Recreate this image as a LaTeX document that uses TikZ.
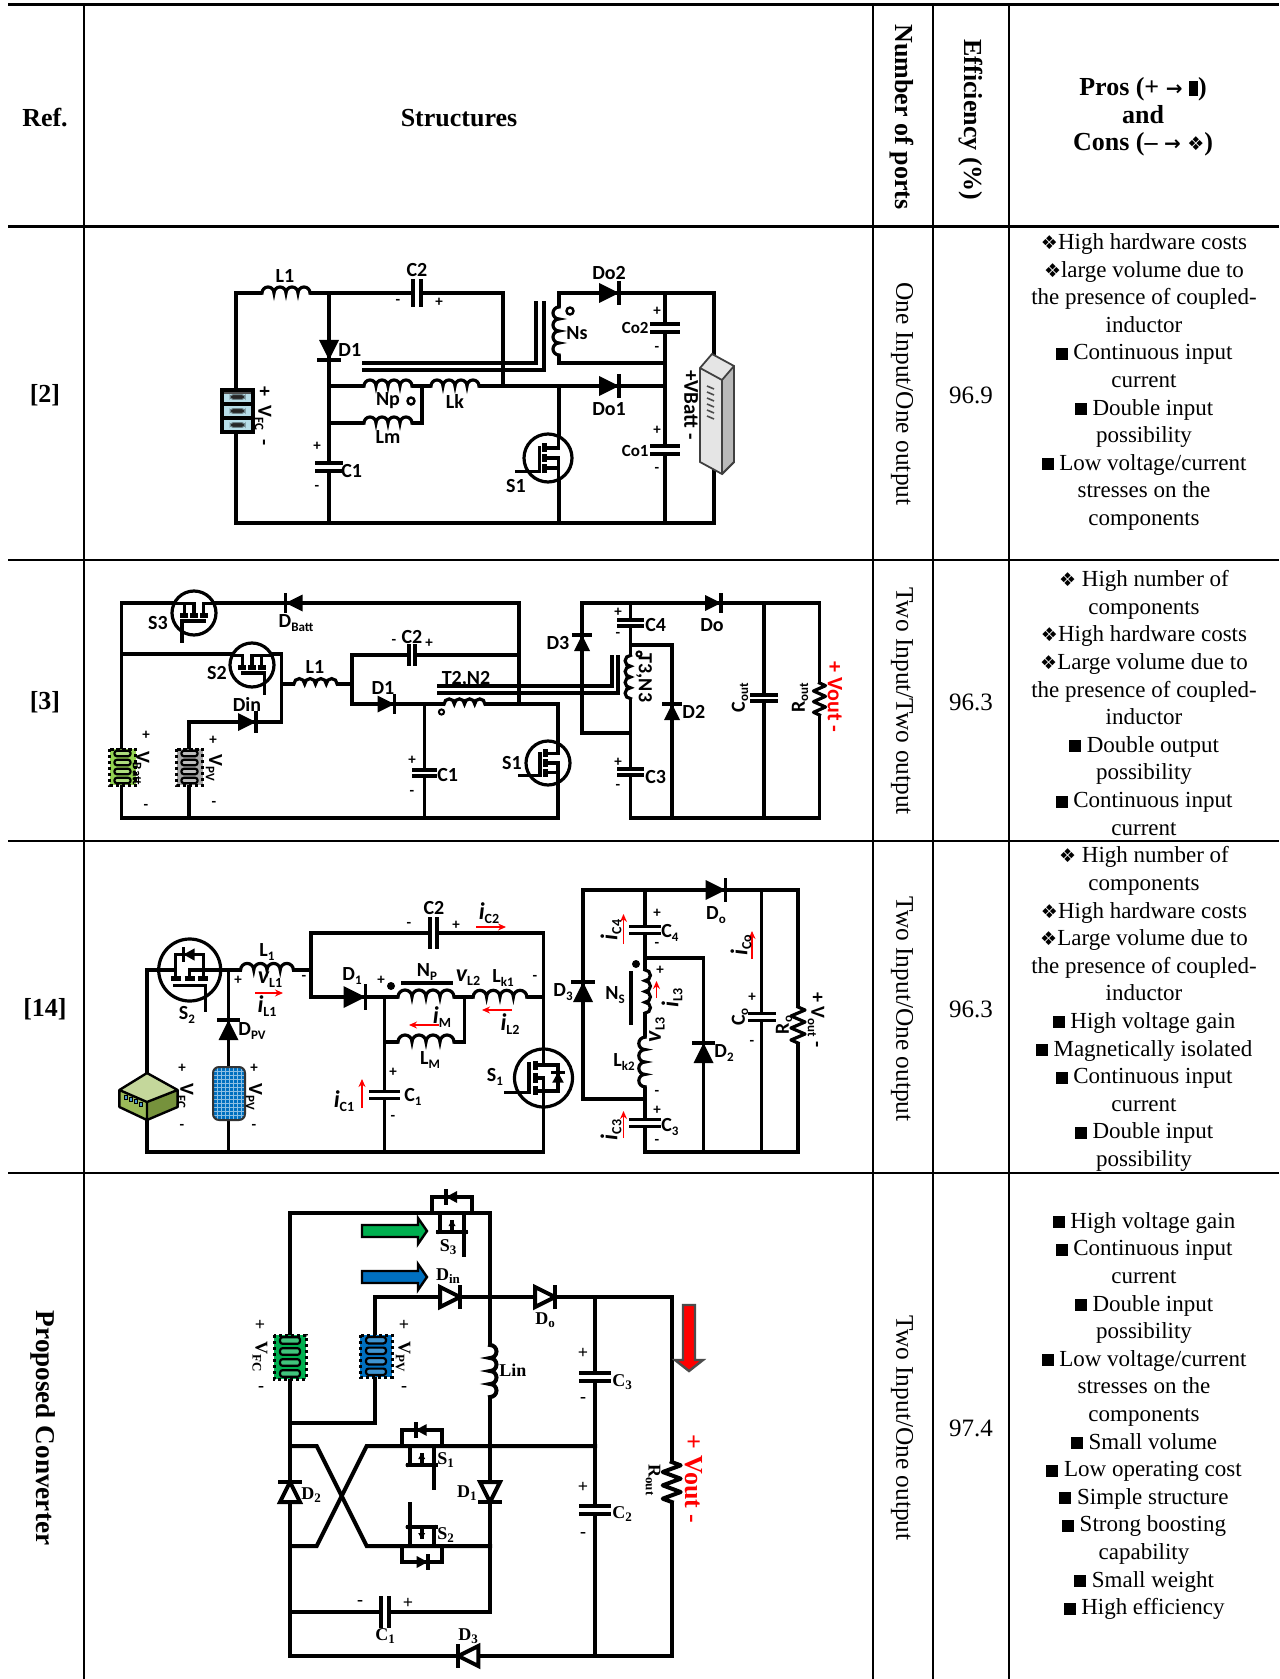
\documentclass[tikz,border=0pt]{standalone}
\usepackage{fontspec}
\setmainfont{Liberation Serif}
\newfontfamily\calfont{Carlito}
\newfontfamily\symfont{DejaVu Sans}
\usetikzlibrary{arrows.meta}
\definecolor{vgreen}{HTML}{92D050}
\definecolor{vgray}{HTML}{A6A6A6}
\definecolor{c1blue}{HTML}{B7DDE8}
\definecolor{pgreen}{HTML}{00B050}
\definecolor{pblue}{HTML}{0070C0}
\definecolor{olvA}{HTML}{C4D79B}
\definecolor{olvB}{HTML}{9BBB59}
\definecolor{olvC}{HTML}{76923C}
\definecolor{vred}{HTML}{FF0000}
\newcounter{nn}
\newcommand\Lb[4][]{\stepcounter{nn}\node[#1] (n\arabic{nn}) at (#2,#3) {#4};}
\newcommand\sbs[1]{\raisebox{-0.35ex}{\fontsize{6.5}{6.5}\selectfont #1}}
\newcommand\dmd{{\symfont\fontsize{9.5}{9.5}\selectfont ❖}}
\newcommand\bsq{\rule{6pt}{6pt}}
\newcommand\arr{{\symfont\fontsize{10}{10}\selectfont →}}
\newcommand\iv[2]{{\itshape\fontsize{12}{12}\selectfont #1}\raisebox{-0.4ex}{\calfont\bfseries\fontsize{7}{7}\selectfont #2}}
% components
\newcommand\Ind[4]{\begin{scope}[shift={(#1,#2)},rotate=#3]
 \fill[white] (-4*#4,-2.6) rectangle (4*#4,2.6);
 \draw[wire] (-4*#4,0) arc(180:360:#4) arc(180:360:#4) arc(180:360:#4) arc(180:360:#4);
\end{scope}}
\newcommand\Cap[5]{\begin{scope}[shift={(#1,#2)},rotate=#3]
 \fill[white] (-#5,-2.6) rectangle (#5,2.6);
 \draw[wire] (-#5,-#4) -- (-#5,#4) (#5,-#4) -- (#5,#4);
\end{scope}}
\newcommand\Dio[4]{\begin{scope}[shift={(#1,#2)},rotate=#3]
 \fill (-#4,-#4) -- (#4,0) -- (-#4,#4) -- cycle;
 \draw[wire] (#4,-#4) -- (#4,#4);
\end{scope}}
\newcommand\DioO[4]{\begin{scope}[shift={(#1,#2)},rotate=#3]
 \filldraw[wire,fill=white] (-#4,-#4) -- (#4,0) -- (-#4,#4) -- cycle;
 \draw[wire] (#4,-#4) -- (#4,#4);
\end{scope}}
\newcommand\Mos[4]{\begin{scope}[shift={(#1,#2)},#3]
 \filldraw[wire,fill=white] (0,0) circle (#4);
 \draw[wire] (0.45*#4,-0.89*#4) -- (0.45*#4,-0.42*#4) -- (-0.1*#4,-0.42*#4)
   (0.45*#4,0.89*#4) -- (0.45*#4,0.42*#4) -- (-0.1*#4,0.42*#4)
   (-0.1*#4,0) -- (0.45*#4,0) -- (0.45*#4,0.42*#4);
 \draw[line width=2.4pt] (-0.13*#4,-0.62*#4) -- (-0.13*#4,-0.26*#4) (-0.13*#4,-0.16*#4) -- (-0.13*#4,0.16*#4) (-0.13*#4,0.26*#4) -- (-0.13*#4,0.62*#4);
 \draw[wire] (-0.36*#4,-0.45*#4) -- (-0.36*#4,0.55*#4) -- (-1.3*#4,0.55*#4);
\end{scope}}
\newcommand\MosD[4]{\begin{scope}[shift={(#1,#2)},#3]
 \filldraw[wire,fill=white] (0,0) circle (#4);
 \draw[wire] (0,-#4) -- (0,-0.45*#4) (-0.22*#4,-0.45*#4) -- (0.5*#4,-0.45*#4) -- (0.5*#4,0.45*#4) -- (-0.22*#4,0.45*#4) (0,0.45*#4) -- (0,#4) (-0.22*#4,0) -- (0,0) -- (0,0.45*#4);
 \fill (0.5*#4,-0.2*#4) -- (0.3*#4,0.16*#4) -- (0.7*#4,0.16*#4) -- cycle;
 \draw[wire] (0.3*#4,-0.2*#4) -- (0.7*#4,-0.2*#4);
 \draw[line width=2.4pt] (-0.28*#4,-0.6*#4) -- (-0.28*#4,-0.28*#4) (-0.28*#4,-0.16*#4) -- (-0.28*#4,0.16*#4) (-0.28*#4,0.28*#4) -- (-0.28*#4,0.6*#4);
 \draw[wire] (-0.5*#4,-0.5*#4) -- (-0.5*#4,0.5*#4) -- (-1.3*#4,0.5*#4);
\end{scope}}
\newcommand\Sw[3]{\begin{scope}[shift={(#1,#2)},#3]
 \draw[wire] (-20,0) -- (-20,-16) -- (20,-16) -- (20,0);
 \fill (5,-22) -- (-6,-16) -- (5,-10) -- cycle;
 \draw[wire] (-6,-22) -- (-6,-10);
 \draw[wire] (-12,0) -- (-12,19) (12,0) -- (12,42) (-14,19) -- (14,19) (0,19) -- (0,9);
 \fill (-3.5,13) -- (0,7) -- (3.5,13) -- cycle;
 \fill (-14,19) circle (2.2) (14,19) circle (2.2);
\end{scope}}
\newcommand\Res[5]{\begin{scope}[shift={(#1,#2)},rotate=#3]
 \fill[white] (-#4,-3) rectangle (#4,3);
 \draw[wire,line join=round] (-#4,0) -- ++({#4/6},-#5) -- ++({#4/3},{2*#5}) -- ++({#4/3},{-2*#5}) -- ++({#4/3},{2*#5}) -- ++({#4/3},{-2*#5}) -- ++({#4/3},{2*#5}) -- ++({#4/6},-#5);
\end{scope}}
\newcommand\Batt[7]{\begin{scope}[shift={(#1,#2)}]
 \fill[#5] (-#3,-#4) rectangle (#3,#4);
 \draw[#7] (-#3,-#4) rectangle (#3,#4);
 \foreach \k in {1,...,#6}{
   \filldraw[line width=1.1pt, rounded corners=1.2pt, fill=#5!75!white]
     ({-0.62*#3},{-#4+(\k-0.8)*2*#4/#6}) rectangle ({0.62*#3},{-#4+(\k-0.2)*2*#4/#6});
 }
\end{scope}}
\begin{document}
\begin{tikzpicture}[x=0.5pt,y=-0.5pt,
  wire/.style={line width=1.6pt, line join=miter, line cap=rect},
  body/.style={font=\fontsize{11.5}{13.8}\selectfont, align=center, inner sep=0pt},
  hdr/.style={font=\bfseries\fontsize{13}{13.8}\selectfont, align=center, inner sep=0pt},
  prt/.style={font=\fontsize{12.7}{14}\selectfont, inner sep=0pt},
  eff/.style={font=\fontsize{12.5}{14}\selectfont, inner sep=0pt},
  lb/.style={font=\calfont\bfseries\fontsize{10}{10}\selectfont, inner sep=0pt},
  lbs/.style={font=\calfont\bfseries\fontsize{7.5}{7.5}\selectfont, inner sep=0pt},
  lbt/.style={font=\bfseries\fontsize{9}{9}\selectfont, inner sep=0pt},
  cur/.style={vred, line width=0.9pt, -{Stealth[length=4pt,width=3.5pt]}},
  dotb/.style={line width=1.5pt, dash pattern=on 1.6pt off 1.4pt}]
\useasboundingbox (0,0) rectangle (1279,1679);
\fill[white] (0,0) rectangle (1279,1679);
% ===== table =====
\draw[line width=1.5pt] (8,5) -- (1279,5) (8,227) -- (1279,227);
\draw[line width=0.8pt] (8,560) -- (1279,560) (8,841) -- (1279,841) (8,1173) -- (1279,1173);
\draw[line width=1pt] (84,5) -- (84,1679) (873,5) -- (873,1679) (933,5) -- (933,1679) (1009,5) -- (1009,1679);
\Lb[hdr]{45}{118}{Ref.}
\Lb[hdr]{459}{118}{Structures}
\Lb[hdr,rotate=-90]{902}{117}{Number of ports}
\Lb[hdr,rotate=-90]{971}{120}{Efficiency (\%)}
\Lb[hdr]{1143}{117}{Pros (+ \arr\ \rule{4.5pt}{7.5pt})\\and\\Cons (– \arr\ \dmd)}
\Lb[hdr]{45}{395}{[2]}
\Lb[hdr]{45}{702}{[3]}
\Lb[hdr]{45}{1009}{[14]}
\Lb[hdr,font=\bfseries\fontsize{13.6}{14}\selectfont,rotate=-90]{43}{1428}{Proposed Converter}
\Lb[prt,rotate=-90]{902}{394}{One Input/One output}
\Lb[prt,rotate=-90]{902}{701}{Two Input/Two output}
\Lb[prt,rotate=-90]{902}{1009}{Two Input/One output}
\Lb[prt,rotate=-90]{902}{1428}{Two Input/One output}
\Lb[eff]{971}{395}{96.9}
\Lb[eff]{971}{702}{96.3}
\Lb[eff]{971}{1009}{96.3}
\Lb[eff]{971}{1428}{97.4}
\Lb[body]{1144}{382}{\dmd High hardware costs\\ \dmd large volume due to\\ the presence of coupled-\\ inductor\\ \bsq\ Continuous input\\ current\\ \bsq\ Double input\\ possibility\\ \bsq\ Low voltage/current\\ stresses on the\\ components}
\Lb[body]{1144}{703}{\dmd\ High number of\\ components\\ \dmd High hardware costs\\ \dmd Large volume due to\\ the presence of coupled-\\ inductor\\ \bsq\ Double output\\ possibility\\ \bsq\ Continuous input\\ current}
\Lb[body]{1144}{1009}{\dmd\ High number of\\ components\\ \dmd High hardware costs\\ \dmd Large volume due to\\ the presence of coupled-\\ inductor\\ \bsq\ High voltage gain\\ \bsq\ Magnetically isolated\\ \bsq\ Continuous input\\ current\\ \bsq\ Double input\\ possibility}
\Lb[body]{1144}{1416}{\bsq\ High voltage gain\\ \bsq\ Continuous input\\ current\\ \bsq\ Double input\\ possibility\\ \bsq\ Low voltage/current\\ stresses on the\\ components\\ \bsq\ Small volume\\ \bsq\ Low operating cost\\ \bsq\ Simple structure\\ \bsq\ Strong boosting\\ capability\\ \bsq\ Small weight\\ \bsq\ High efficiency}
% ===== circuit 1 =====
\draw[wire] (236,293) -- (503,293) -- (503,386);
\draw[wire] (329,293) -- (329,523);
\draw[wire] (236,293) -- (236,523) -- (714,523) -- (714,293) -- (559,293) -- (559,363) -- (665,363);
\draw[wire] (329,386) -- (665,386);
\draw[wire] (329,423) -- (422,423) -- (422,386);
\draw[wire] (559,386) -- (559,523);
\draw[wire] (665,293) -- (665,523);
\draw[wire] (364,363) -- (536,363) -- (536,303);
\draw[wire] (364,370) -- (544,370) -- (544,303);
\Ind{286}{293}{0}{6}
\Cap{417}{293}{0}{12.5}{4}
\Dio{329}{350}{-90}{10}
\Ind{388}{386}{0}{6}
\Ind{455}{386}{0}{6}
\Ind{388}{423}{0}{6}
\Cap{329}{467}{90}{12.5}{4}
\Mos{548}{458}{rotate=0}{24}
\Ind{559}{331}{90}{6}
\Dio{609}{293}{0}{10}
\Dio{609}{386}{0}{10}
\Cap{665}{328}{90}{13}{4}
\Cap{665}{450}{90}{13}{4}
% VFC box (circuit 1)
\fill[c1blue] (222,390) rectangle (253,432);
\draw[line width=1.6pt] (222,390) rectangle (253,432) (222,404) -- (253,404) (222,418) -- (253,418);
\draw[line width=0.8pt, black!70] (224,393) -- (251,393);
\foreach \yy in {397,411,425} \filldraw[fill=black!85, draw=c1blue!60!black, line width=0.5pt, rounded corners=1.5pt] (230,\yy-2.3) rectangle (245,\yy+2.3);
% VBatt 3D
\filldraw[fill=gray!20, draw=black!75, line width=0.9pt] (700,368) -- (712,354) -- (734,366) -- (734,462) -- (722,474) -- (700,462) -- cycle;
\fill[gray!55] (722,380) -- (734,366) -- (734,462) -- (722,474) -- cycle;
\draw[black!75, line width=0.9pt] (700,368) -- (722,380) -- (734,366) (722,380) -- (722,474) (734,366) -- (734,462) -- (722,474);
\foreach \yy in {386,392,...,416} \draw[black!70, line width=0.8pt] (707,\yy) -- (714,\yy+3);
\filldraw[fill=white, line width=1.2pt] (411,401) circle (3.5);
\filldraw[fill=white, line width=1.2pt] (570,311) circle (3.5);
\Lb[lb]{285}{276}{L1}
\Lb[lb]{417}{270}{C2}
\Lb[lbs]{398}{302}{-}
\Lb[lbs]{439}{302}{+}
\Lb[lb]{609}{273}{Do2}
\Lb[lb,anchor=west]{338}{350}{D1}
\Lb[lb]{388}{401}{Np}
\Lb[lb]{455}{401}{Lk}
\Lb[lb]{388}{437}{Lm}
\Lb[lb,anchor=west]{566}{333}{Ns}
\Lb[lbs,anchor=east]{649}{328}{\fontsize{8.5}{8.5}\selectfont Co2}
\Lb[lbs,anchor=east]{649}{451}{\fontsize{8.5}{8.5}\selectfont Co1}
\Lb[lbs]{657}{311}{+}
\Lb[lbs]{657}{349}{-}
\Lb[lbs]{657}{430}{+}
\Lb[lbs]{657}{470}{-}
\Lb[lb]{609}{409}{Do1}
\Lb[lb,anchor=west]{341}{471}{C1}
\Lb[lbs]{317}{446}{+}
\Lb[lbs]{317}{488}{-}
\Lb[lb]{516}{486}{S1}
\Lb[lb,rotate=-90]{263}{416}{+ \ V\sbs{FC} \ -}
\Lb[lb,rotate=-90,font=\calfont\bfseries\fontsize{10.5}{10.5}\selectfont]{691}{405}{+VBatt -}
% ===== circuit 2 =====
\draw[wire] (121.5,603) -- (519,603) -- (519,704);
\draw[wire] (121.5,603) -- (121.5,818) -- (558,818) -- (558,704) -- (352,704) -- (352,655) -- (519,655);
\draw[wire] (121.5,654) -- (281.5,654) -- (281.5,722) -- (189,722) -- (189,818);
\draw[wire] (281.5,684) -- (352,684);
\draw[wire] (424.5,704) -- (424.5,818);
\draw[wire] (439,686) -- (612,686) -- (612,657);
\draw[wire] (439,693) -- (618,693) -- (618,657);
\draw[wire] (630.5,603) -- (630.5,818);
\draw[wire] (582,603) -- (819.5,603) -- (819.5,818) -- (630.5,818);
\draw[wire] (582,603) -- (582,733) -- (630.5,733);
\draw[wire] (630.5,645) -- (672,645) -- (672,818);
\draw[wire] (764,603) -- (764,818);
\Mos{194}{613}{rotate=90,yscale=-1}{22}
\Dio{294}{603}{180}{8.5}
\Mos{252}{665}{rotate=90}{22}
\Ind{315.5}{684}{0}{5.4}
\Cap{412}{655}{0}{9}{3}
\Dio{386}{704}{0}{8.5}
\Ind{464.5}{704}{0}{5.1}
\Dio{247}{722}{0}{9}
\Cap{424.5}{773}{90}{11}{3}
\Mos{548}{763}{rotate=0}{22}
\Dio{582}{643}{90}{8}
\Cap{630.5}{623}{90}{12}{3}
\Ind{630.5}{677}{90}{5.4}
\Cap{630.5}{772}{90}{12}{3}
\Dio{672}{712}{90}{8}
\Dio{713}{603}{0}{8}
\Cap{764}{698}{90}{12}{3}
\Res{819.5}{699}{90}{16}{6}
\Batt{122.5}{767}{13}{18}{vgreen}{4}{dotb}
\Batt{189.5}{767}{13}{18}{vgray}{4}{dotb}
\filldraw[fill=white, line width=1pt] (441.5,712) circle (2.6);
\filldraw[fill=white, line width=1pt] (639,654) circle (2.6);
\Lb[lb]{158}{623}{S3}
\Lb[lb]{296}{623}{D\sbs{Batt}}
\Lb[lb]{217}{673}{S2}
\Lb[lb]{315}{667}{L1}
\Lb[lb]{412}{637}{C2}
\Lb[lbs]{394}{642}{-}
\Lb[lbs]{429}{643}{+}
\Lb[lb]{383}{688}{D1}
\Lb[lb]{466}{679}{T2,N2}
\Lb[lb]{247}{704}{Din}
\Lb[lb,anchor=west]{437}{775}{C1}
\Lb[lbs]{412}{760}{+}
\Lb[lbs]{412}{793}{-}
\Lb[lb]{512}{763}{S1}
\Lb[lbs]{146}{735}{+}
\Lb[lb,rotate=-90]{141}{768}{V\sbs{Batt}}
\Lb[lbs]{146}{807}{-}
\Lb[lbs]{213}{740}{+}
\Lb[lb,rotate=-90]{214}{768}{V\sbs{PV}}
\Lb[lbs]{214}{804}{-}
\Lb[lb]{558}{643}{D3}
\Lb[lb,anchor=west]{645}{625}{C4}
\Lb[lbs]{618}{612}{+}
\Lb[lbs]{618}{635}{-}
\Lb[lb]{712}{625}{Do}
\Lb[lb,rotate=-90]{644}{678}{T3,N3}
\Lb[lb,anchor=west]{682}{712}{D2}
\Lb[lb,rotate=90]{740}{698}{C\sbs{out}}
\Lb[lb,rotate=90]{800}{698}{R\sbs{out}}
\Lb[lb,rotate=-90,text=vred,font=\calfont\bfseries\fontsize{11}{11}\selectfont]{835}{697}{+ Vout -}
\Lb[lb,anchor=west]{645}{777}{C3}
\Lb[lbs]{618}{762}{+}
\Lb[lbs]{618}{787}{-}
% ===== circuit 3 =====
\draw[wire] (147,970) -- (311,970);
\draw[wire] (147,970) -- (147,1152) -- (543.5,1152);
\draw[wire] (228.5,970) -- (228.5,1152);
\draw[wire] (311,933) -- (311,997) -- (543.5,997);
\draw[wire] (311,933) -- (543.5,933) -- (543.5,1152);
\draw[wire] (384.5,997) -- (384.5,1152);
\draw[wire] (384.5,1042) -- (464.5,1042) -- (464.5,997);
\draw[wire] (403,983) -- (451,983);
\draw[wire] (583,890) -- (798,890) -- (798,1152) -- (645,1152) -- (645,890);
\draw[wire] (583,890) -- (583,1099) -- (645,1099);
\draw[wire] (645,958) -- (703.5,958) -- (703.5,1152);
\draw[wire] (761.7,890) -- (761.7,1152);
\draw[wire] (631,973) -- (631,1023);
\MosD{189.7}{970}{rotate=90}{31}
\Ind{267}{970}{0}{6.6}
\Dio{228.5}{1030}{90}{10}
\Cap{433.5}{933}{0}{14}{3.5}
\Dio{354.5}{997}{0}{11}
\Ind{426}{997}{0}{7}
\Ind{500}{997}{0}{6.7}
\Ind{426}{1042}{0}{7}
\Cap{384.5}{1095}{90}{14}{3.5}
\MosD{543.5}{1078}{rotate=0}{29}
\Dio{583}{992}{90}{10}
\Dio{715.6}{890}{0}{10}
\Cap{645}{930}{90}{14}{3.5}
\Ind{645}{991.5}{-90}{5.4}
\Ind{645}{1062}{90}{6.2}
\Cap{645}{1123}{90}{14}{3.5}
\Dio{703.5}{1053}{90}{10}
\Cap{761.7}{1017}{90}{12.5}{3.5}
\Res{798}{1025}{90}{18}{7}
% fuel cell
\fill[olvA] (147,1073) -- (177.6,1090) -- (147,1102) -- (119.4,1090) -- cycle;
\fill[olvB] (119.4,1090) -- (147,1102) -- (147,1120) -- (119.4,1107) -- cycle;
\fill[olvC] (147,1102) -- (177.6,1090) -- (177.6,1107) -- (147,1120) -- cycle;
\draw[line width=1.2pt, line join=round] (147,1073) -- (177.6,1090) -- (177.6,1107) -- (147,1120) -- (119.4,1107) -- (119.4,1090) -- cycle (119.4,1090) -- (147,1102) -- (177.6,1090) (147,1102) -- (147,1120);
\foreach \k in {0,1,2,3} \filldraw[fill=pblue!70!white, draw=black, line width=0.4pt] (124+5*\k,1095+2.3*\k) rectangle (127.5+5*\k,1099+2.3*\k);
% PV panel
\fill[pblue, rounded corners=3pt] (213,1067) rectangle (245,1120);
\foreach \yy in {1071,1075,...,1117} \draw[pblue!45!white, line width=0.35pt] (214,\yy) -- (244,\yy);
\foreach \xx in {217,221,...,241} \draw[pblue!45!white, line width=0.35pt] (\xx,1068) -- (\xx,1119);
\draw[black!80, line width=1pt, rounded corners=3pt] (213,1067) rectangle (245,1120);
\fill (391,986) circle (4);
\fill (636,964) circle (4);
% currents
\draw[cur] (255,993) -- (283,993);
\draw[cur] (476,927) -- (506,927);
\draw[cur] (512,1010) -- (482,1010);
\draw[cur] (439,1025) -- (409,1025);
\draw[cur] (362,1108) -- (362,1079);
\draw[cur] (623.5,944) -- (623.5,914);
\draw[cur] (656.5,998) -- (656.5,981);
\draw[cur] (623.5,1138) -- (623.5,1111);
\draw[cur] (752,959) -- (752,931);
\Lb[lb]{187}{1015}{S\sbs{2}}
\Lb[lb,anchor=west]{238}{1031}{D\sbs{PV}}
\Lb[lb]{267}{952}{L\sbs{1}}
\Lb[lbs]{238}{980}{+}
\Lb[lb]{270}{980}{\iv{v}{L1}}
\Lb[lbs]{304}{978}{-}
\Lb[lb]{267}{1006}{\iv{i}{L1}}
\Lb[lb]{434}{908}{C2}
\Lb[lbs]{409}{925}{-}
\Lb[lbs]{456}{925}{+}
\Lb[lb]{489}{913}{\iv{i}{C2}}
\Lb[lb]{352}{976}{D\sbs{1}}
\Lb[lbs]{381}{980}{+}
\Lb[lb]{427}{972}{N\sbs{P}}
\Lb[lb]{468}{978}{\iv{v}{L2}}
\Lb[lb]{503}{978}{L\sbs{k1}}
\Lb[lbs]{535}{978}{-}
\Lb[lb]{442}{1017}{\iv{i}{M}}
\Lb[lb]{510}{1024}{\iv{i}{L2}}
\Lb[lb]{430}{1060}{L\sbs{M}}
\Lb[lb,anchor=west]{404}{1097}{C\sbs{1}}
\Lb[lbs]{393}{1072}{+}
\Lb[lbs]{393}{1118}{-}
\Lb[lb]{344}{1101}{\iv{i}{C1}}
\Lb[lb]{495}{1077}{S\sbs{1}}
\Lb[lb]{563}{992}{D\sbs{3}}
\Lb[lb]{716}{915}{D\sbs{o}}
\Lb[lb,anchor=west]{661}{933}{C\sbs{4}}
\Lb[lbs]{657}{913}{+}
\Lb[lbs]{657}{945}{-}
\Lb[lb,rotate=90]{611}{930}{\iv{i}{C4}}
\Lb[lb]{615}{995}{N\sbs{S}}
\Lb[lbs]{660}{970}{+}
\Lb[lb,rotate=90]{672}{998}{\iv{i}{L3}}
\Lb[lb,rotate=90]{657}{1030}{\iv{v}{L3}}
\Lb[lb]{624}{1062}{L\sbs{k2}}
\Lb[lbs]{657}{1093}{-}
\Lb[lb,anchor=west]{661}{1127}{C\sbs{3}}
\Lb[lbs]{657}{1110}{+}
\Lb[lbs]{657}{1142}{-}
\Lb[lb,rotate=90]{611}{1130}{\iv{i}{C3}}
\Lb[lb,anchor=west]{714}{1053}{D\sbs{2}}
\Lb[lb,rotate=90]{740}{1017}{C\sbs{o}}
\Lb[lbs]{752}{997}{+}
\Lb[lbs]{752}{1043}{-}
\Lb[lb,rotate=90]{741}{945}{\iv{i}{Co}}
\Lb[lb,rotate=90]{784}{1025}{R\sbs{o}}
\Lb[lb,rotate=-90]{816}{1020}{+ V\sbs{out} -}
\Lb[lbs]{182}{1068}{+}
\Lb[lb,rotate=-90]{185}{1096}{V\sbs{FC}}
\Lb[lbs]{182}{1127}{-}
\Lb[lbs]{254}{1068}{+}
\Lb[lb,rotate=-90]{254}{1097}{V\sbs{PV}}
\Lb[lbs]{254}{1127}{-}
% ===== circuit 4 =====
\begin{scope}[wire/.style={line width=2pt, line join=miter, line cap=rect}]
\draw[wire] (290,1213) -- (490,1213) -- (490,1612) -- (290,1612);
\draw[wire] (290,1213) -- (290,1656) -- (671.7,1656) -- (671.7,1297) -- (375,1297) -- (375,1423) -- (290,1423);
\draw[wire] (290,1446) -- (316.7,1446) -- (366.7,1546) -- (490,1546);
\draw[wire] (290,1546) -- (316.7,1546) -- (366.7,1446) -- (595,1446);
\draw[wire] (595,1297) -- (595,1656);
\Sw{452}{1213}{rotate=0}
\DioO{450}{1297}{0}{10}
\DioO{545}{1297}{0}{10}
\Ind{490}{1371}{-90}{6.5}
\Cap{595}{1377}{90}{14}{4}
\Cap{595}{1510}{90}{14}{4}
\Sw{421.7}{1446}{rotate=0}
\Sw{421.7}{1546}{rotate=180}
\DioO{290}{1492}{90}{10}
\DioO{490}{1492}{-90}{10}
\Cap{385}{1612}{0}{14}{4}
\DioO{468.3}{1656}{180}{10}
\Res{671.7}{1482}{90}{20}{9}
\Batt{290}{1357}{16}{22}{pgreen}{4}{dotb}
\Batt{376}{1356}{16}{21}{pblue}{4}{dotb}
\end{scope}
\filldraw[fill=pgreen, draw=black, line width=1.2pt] (362,1225) -- (418,1225) -- (418,1218) -- (427,1231) -- (418,1244) -- (418,1237) -- (362,1237) -- cycle;
\filldraw[fill=pblue, draw=black, line width=1.2pt] (362,1271) -- (418,1271) -- (418,1264) -- (427,1277) -- (418,1290) -- (418,1283) -- (362,1283) -- cycle;
\filldraw[fill=vred, draw=black!70, line width=1.2pt] (683,1305) -- (695,1305) -- (695,1360) -- (703,1360) -- (689,1371) -- (675,1360) -- (683,1360) -- cycle;
\Lb[lbt]{448}{1247}{S\sbs{3}}
\Lb[lbt]{448}{1276}{D\sbs{in}}
\Lb[lbt]{545}{1320}{D\sbs{o}}
\Lb[lbt,anchor=west]{499}{1370}{Lin}
\Lb[lbt,anchor=west]{612}{1382}{C\sbs{3}}
\Lb[lbt,anchor=west]{437}{1460}{S\sbs{1}}
\Lb[lbt,anchor=west]{437}{1535}{S\sbs{2}}
\Lb[lbt,anchor=west]{301}{1495}{D\sbs{2}}
\Lb[lbt,anchor=east]{477}{1493}{D\sbs{1}}
\Lb[lbt,anchor=west]{612}{1514}{C\sbs{2}}
\Lb[lbt]{385}{1636}{C\sbs{1}}
\Lb[lbt]{468}{1636}{D\sbs{3}}
\Lb[lbt]{583}{1353}{+}
\Lb[lbt]{583}{1400}{-}
\Lb[lbt]{583}{1487}{+}
\Lb[lbt]{583}{1535}{-}
\Lb[lbt]{360}{1603}{-}
\Lb[lbt]{408}{1603}{+}
\Lb[lbt]{260}{1325}{+}
\Lb[lbt,rotate=-90]{260}{1357}{V\sbs{FC}}
\Lb[lbt]{261}{1389}{-}
\Lb[lbt]{404}{1325}{+}
\Lb[lbt,rotate=-90]{403}{1357}{V\sbs{PV}}
\Lb[lbt]{404}{1389}{-}
\Lb[lbt,rotate=-90]{653}{1480}{R\sbs{out}}
\Lb[lbt,rotate=-90,text=vred,font=\bfseries\fontsize{13}{13}\selectfont]{694}{1479}{+ Vout -}
\end{tikzpicture}
\end{document}
